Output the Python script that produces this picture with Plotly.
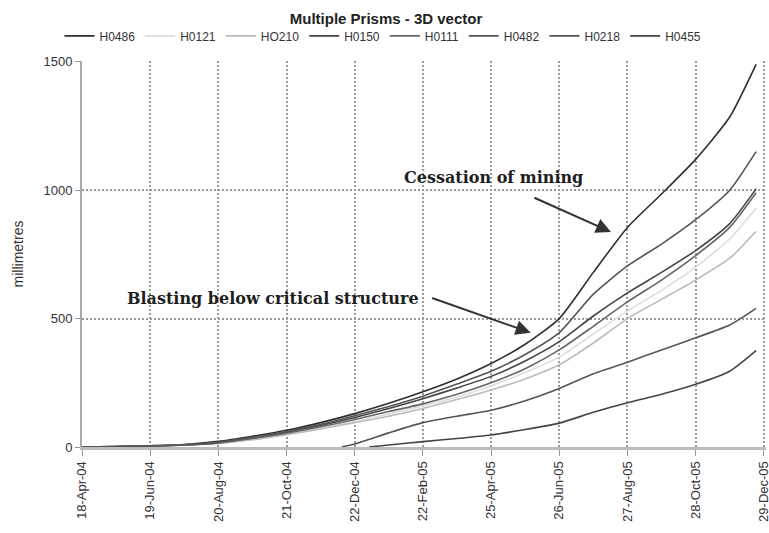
import plotly.graph_objects as go

# ---- data ----
dates_main = ["2004-04-18", "2004-05-19", "2004-06-19", "2004-07-20", "2004-08-20",
              "2004-09-20", "2004-10-21", "2004-11-21", "2004-12-22", "2005-01-22",
              "2005-02-22", "2005-03-25", "2005-04-25", "2005-05-26", "2005-06-26",
              "2005-07-27", "2005-08-27", "2005-09-27", "2005-10-28", "2005-11-28",
              "2005-12-22"]

h0486 = [0, 2, 5, 10, 22, 42, 65, 95, 130, 170, 215, 265, 325, 400, 500, 680, 855, 985, 1120, 1285, 1490]
h0121 = [0, 1, 3, 7, 15, 30, 50, 74, 100, 128, 160, 195, 238, 290, 350, 440, 530, 610, 700, 810, 930]
ho210 = [0, 1, 3, 7, 14, 28, 48, 70, 95, 120, 150, 185, 222, 265, 320, 405, 500, 575, 650, 735, 840]
h0150 = [0, 2, 4, 8, 17, 35, 57, 84, 115, 150, 188, 230, 275, 335, 410, 510, 600, 680, 765, 870, 1005]
h0111 = [0, 1, 4, 8, 16, 33, 54, 79, 107, 138, 168, 205, 250, 305, 378, 470, 565, 650, 745, 855, 990]
h0482 = [0, 2, 5, 9, 19, 38, 60, 88, 122, 158, 198, 245, 295, 360, 445, 595, 705, 790, 885, 1000, 1150]

dates_h0218 = ["2004-12-10", "2004-12-22", "2005-01-22", "2005-02-22", "2005-03-25",
               "2005-04-25", "2005-05-26", "2005-06-26", "2005-07-27", "2005-08-27",
               "2005-09-27", "2005-10-28", "2005-11-28", "2005-12-22"]
h0218 = [0, 12, 55, 95, 120, 143, 180, 228, 285, 330, 378, 425, 475, 540]

dates_h0455 = ["2005-01-04", "2005-01-22", "2005-02-22", "2005-03-25", "2005-04-25",
               "2005-05-26", "2005-06-26", "2005-07-27", "2005-08-27", "2005-09-27",
               "2005-10-28", "2005-11-28", "2005-12-22"]
h0455 = [0, 8, 21, 33, 47, 68, 93, 135, 172, 205, 244, 295, 375]

tick_dates = ["2004-04-18", "2004-06-19", "2004-08-20", "2004-10-21", "2004-12-22",
              "2005-02-22", "2005-04-25", "2005-06-26", "2005-08-27", "2005-10-28",
              "2005-12-29"]
tick_labels = ["18-Apr-04", "19-Jun-04", "20-Aug-04", "21-Oct-04", "22-Dec-04",
               "22-Feb-05", "25-Apr-05", "26-Jun-05", "27-Aug-05", "28-Oct-05",
               "29-Dec-05"]
y_ticks = [0, 500, 1000, 1500]

series = [
    ("H0486", dates_main, h0486, "#2e2e2e"),
    ("H0121", dates_main, h0121, "#dddddd"),
    ("HO210", dates_main, ho210, "#bbbbbb"),
    ("H0150", dates_main, h0150, "#444444"),
    ("H0111", dates_main, h0111, "#666666"),
    ("H0482", dates_main, h0482, "#555555"),
    ("H0218", dates_h0218, h0218, "#555555"),
    ("H0455", dates_h0455, h0455, "#444444"),
]

fig = go.Figure()
for name, xs, ys, col in series:
    fig.add_trace(go.Scatter(x=xs, y=ys, name=name, mode="lines",
                             line=dict(color=col, width=1.6, shape="spline", smoothing=0.6)))

font_sans = "Liberation Sans, Arial, sans-serif"
font_serif = "DejaVu Serif, serif"

fig.update_layout(
    width=769, height=533,
    margin=dict(l=82, r=3, t=61, b=86),
    paper_bgcolor="white", plot_bgcolor="white",
    font=dict(family=font_sans, size=13, color="#333333"),
    title=dict(text="<b>Multiple Prisms - 3D vector</b>", x=0.502, xanchor="center",
               y=1 - 19 / 533, yanchor="middle", font=dict(size=15, color="#222222")),
    legend=dict(orientation="h", x=0.44, xanchor="center", y=1.065, yanchor="middle",
                font=dict(size=12, color="#333333"), itemwidth=30,
                bgcolor="rgba(0,0,0,0)"),
    showlegend=True,
)

fig.update_xaxes(
    type="date", range=["2004-04-18", "2005-12-31"], automargin=False,
    tickmode="array", tickvals=tick_dates, ticktext=tick_labels, tickangle=-90,
    tickfont=dict(size=13, color="#333333"), ticklabeloverflow="allow",
    showgrid=True, gridcolor="#9a9a9a", gridwidth=1.5, griddash="2px,2px",
    showline=True, linecolor="#bbbbbb", linewidth=3,
    ticks="outside", ticklen=6, tickcolor="#999999", zeroline=False,
)
fig.update_yaxes(
    range=[0, 1503], tickmode="array", tickvals=y_ticks, automargin=False,
    tickfont=dict(size=13, color="#333333"),
    showgrid=True, gridcolor="#9a9a9a", gridwidth=1.5, griddash="2px,2px",
    showline=True, linecolor="#aaaaaa", linewidth=2,
    ticks="outside", ticklen=5, tickcolor="#999999", zeroline=False,
    title=dict(text="millimetres", font=dict(size=14, color="#333333"), standoff=17),
)

# annotations
fig.add_annotation(x="2005-04-27", y=1051, xref="x", yref="y",
                   text="<b>Cessation of mining</b>", showarrow=False,
                   font=dict(family=font_serif, size=16, color="#1e1e1e"))
fig.add_annotation(x="2005-08-12", y=837, xref="x", yref="y",
                   ax="2005-06-02", ay=973, axref="x", ayref="y",
                   text="", showarrow=True, arrowhead=2, arrowsize=1.5,
                   arrowwidth=2, arrowcolor="#333333")
fig.add_annotation(x="2004-10-09", y=579, xref="x", yref="y",
                   text="<b>Blasting below critical structure</b>", showarrow=False,
                   font=dict(family=font_serif, size=16, color="#1e1e1e"))
fig.add_annotation(x="2005-05-31", y=445, xref="x", yref="y",
                   ax="2005-03-01", ay=582, axref="x", ayref="y",
                   text="", showarrow=True, arrowhead=2, arrowsize=1.5,
                   arrowwidth=2, arrowcolor="#333333")

fig.write_html("out.html")
